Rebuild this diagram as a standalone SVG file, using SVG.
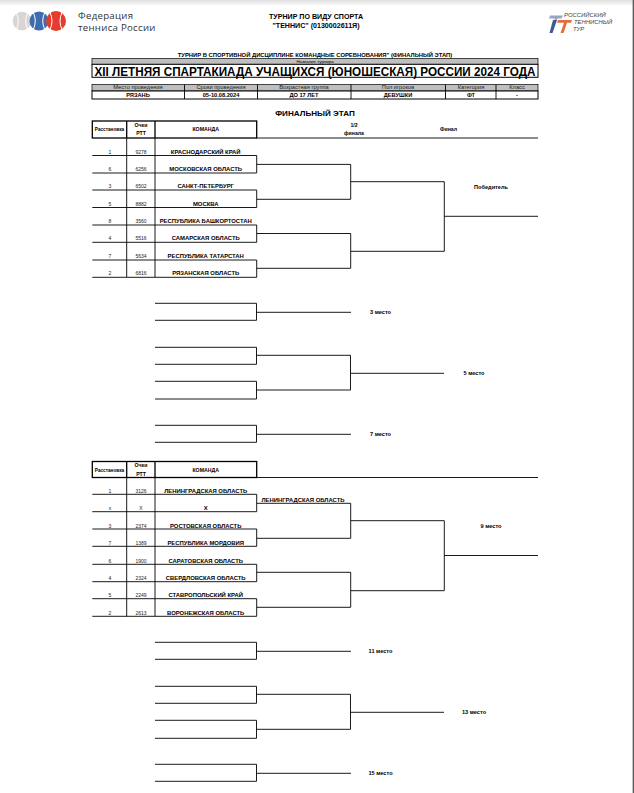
<svg xmlns="http://www.w3.org/2000/svg" width="634" height="793" viewBox="0 0 634 793">
<style>
text{font-family:"Liberation Sans",Arial,sans-serif;fill:#000;text-anchor:middle}
.b{font-weight:700}
.t{font-weight:700;font-size:5.9px}
.n{font-size:5px;fill:#222}
.h{font-size:5.2px;font-weight:700}
.g{font-size:5.7px;fill:#222}
.p{font-size:5.6px;font-weight:700}
.v{font-size:5.7px;font-weight:700}
.ln{fill:none;stroke:#000;stroke-width:.9}
.hv{fill:none;stroke:#000;stroke-width:1.3}
.lg{text-anchor:start;fill:#333;font-family:"Open Sans",sans-serif}
.rt{text-anchor:start;fill:#444;font-style:italic;font-size:5.9px}
</style>
<defs><linearGradient id="top" x1="0" y1="0" x2="0" y2="1"><stop offset="0" stop-color="#dedede"/><stop offset="1" stop-color="#fff"/></linearGradient></defs>
<rect width="634" height="793" fill="#fff"/>
<rect width="634" height="6" fill="url(#top)"/>
<path d="M633.300 0V793" stroke="#555" stroke-width="1.300"/>

<g id="logo-ftr">
<circle cx="22" cy="21" r="9.300" fill="#d9d5d0"/>
<circle cx="39" cy="21" r="9.500" fill="#3f6cae"/>
<circle cx="56" cy="21" r="10" fill="#e53c2e"/>
<path d="M16.500 13Q20 21 16.500 29M27.500 13Q24 21 27.500 29M33.500 13Q37 21 33.500 29M44.500 13Q41 21 44.500 29M50 12.500Q54 21 50 29.500M62 12.500Q58 21 62 29.500" fill="none" stroke="#fff" stroke-width="1"/>
<text class="lg" x="78" y="19" font-size="9.600" letter-spacing=".3">Федерация</text>
<text class="lg" x="78" y="30.500" font-size="9.600" letter-spacing=".3">тенниса России</text>
</g>
<g id="logo-rtt">
<path d="M550 15.500H563L561.500 18.500H557.500L555 24H552.500L555 18.500H549Z" fill="#9aa5c4"/>
<path d="M553 20H557L552.500 33H549.500Z" fill="#3d5a96"/>
<path d="M558 20H572L571 22.700H567L563.500 33H560.500L564 22.700H557Z" fill="#e0703a"/>
<text class="rt" x="564" y="17">РОССИЙСКИЙ</text>
<text class="rt" x="574" y="24">ТЕННИСНЫЙ</text>
<text class="rt" x="573" y="31">ТУР</text>
</g>
<g id="event-title">
<text class="b" x="316" y="18.500" font-size="7.100">ТУРНИР ПО ВИДУ СПОРТА</text>
<text class="b" x="316" y="27.500" font-size="7.100">"ТЕННИС" (0130002611Я)</text>
</g>
<g id="tournament-header">
<text class="b" x="315" y="56.700" font-size="5.850">ТУРНИР В СПОРТИВНОЙ ДИСЦИПЛИНЕ КОМАНДНЫЕ СОРЕВНОВАНИЯ" (ФИНАЛЬНЫЙ ЭТАП)</text>
<rect x="92" y="58.500" width="446" height="5.800" fill="#bfbfbf" stroke="#000" stroke-width=".7"/>
<rect x="92" y="64.300" width="446" height="13" fill="#fff" stroke="#000" stroke-width="1"/>
<text x="315" y="63.200" font-size="4.400" fill="#333">Название турнира</text>
<text class="b" x="315" y="75.500" font-size="13" textLength="441" lengthAdjust="spacingAndGlyphs">XII ЛЕТНЯЯ СПАРТАКИАДА УЧАЩИХСЯ (ЮНОШЕСКАЯ) РОССИИ 2024 ГОДА</text>
</g>
<g id="info-table">
<rect x="92" y="84.500" width="446" height="6.500" fill="#bfbfbf" stroke="#000" stroke-width=".7"/>
<rect x="92" y="91" width="446" height="8" fill="#fff" stroke="#000" stroke-width="1"/>
<path class="ln" d="M184.500 84.500V99M257.500 84.500V99M351 84.500V99M445.500 84.500V99M496 84.500V99"/>
<text class="g" x="138" y="89.300">Место проведения</text><text class="g" x="221" y="89.300">Сроки проведения</text><text class="g" x="304" y="89.300">Возрастная группа</text><text class="g" x="398" y="89.300">Пол игроков</text><text class="g" x="471" y="89.300">Категория</text><text class="g" x="517" y="89.300">Класс</text>
<text class="v" x="138" y="96.800">РЯЗАНЬ</text><text class="v" x="221" y="96.800">05-10.08.2024</text><text class="v" x="304" y="96.800">ДО 17 ЛЕТ</text><text class="v" x="398" y="96.800">ДЕВУШКИ</text><text class="v" x="471" y="96.800">ФТ</text><text class="v" x="517" y="96.800">-</text>
</g>
<text id="stage-title" class="b" x="315" y="115.500" font-size="8.100">ФИНАЛЬНЫЙ ЭТАП</text>
<g id="round-labels">
<text class="h" x="354" y="127.300">1/2</text><text class="h" x="354" y="134.800">финала</text><text class="h" x="448.500" y="131">Финал</text>
</g>

<g id="table-1-head">
<rect class="hv" x="92.300" y="121" width="164.400" height="17"/>
<path class="hv" d="M126.700 121V138M155 121V138"/>
<text x="109.500" y="131" font-size="4.700" class="b">Расстановка</text>
<text class="h" x="141" y="126.500">Очки</text><text class="h" x="141" y="135">РТТ</text>
<text class="h" x="205.700" y="131">КОМАНДА</text>
</g>
<g id="table-1-grid"><path class="ln" d="M126.700 138V277M155 138V277"/></g>
<g id="team-1"><path class="ln" d="M92.300 155.500H256.700"/><text class="n" x="110" y="153.500">1</text><text class="n" x="141" y="153.500">9278</text><text class="t" x="205.700" y="153.500">КРАСНОДАРСКИЙ КРАЙ</text></g>
<g id="team-2"><path class="ln" d="M92.300 173H256.700"/><text class="n" x="110" y="171">6</text><text class="n" x="141" y="171">6256</text><text class="t" x="205.700" y="171">МОСКОВСКАЯ ОБЛАСТЬ</text></g>
<g id="team-3"><path class="ln" d="M92.300 190H256.700"/><text class="n" x="110" y="188">3</text><text class="n" x="141" y="188">6502</text><text class="t" x="205.700" y="188">САНКТ-ПЕТЕРБУРГ</text></g>
<g id="team-4"><path class="ln" d="M92.300 207.500H256.700"/><text class="n" x="110" y="205.500">5</text><text class="n" x="141" y="205.500">8882</text><text class="t" x="205.700" y="205.500">МОСКВА</text></g>
<g id="team-5"><path class="ln" d="M92.300 225H256.700"/><text class="n" x="110" y="223">8</text><text class="n" x="141" y="223">3560</text><text class="t" x="205.700" y="223">РЕСПУБЛИКА БАШКОРТОСТАН</text></g>
<g id="team-6"><path class="ln" d="M92.300 242.300H256.700"/><text class="n" x="110" y="240.300">4</text><text class="n" x="141" y="240.300">5516</text><text class="t" x="205.700" y="240.300">САМАРСКАЯ ОБЛАСТЬ</text></g>
<g id="team-7"><path class="ln" d="M92.300 260H256.700"/><text class="n" x="110" y="258">7</text><text class="n" x="141" y="258">5634</text><text class="t" x="205.700" y="258">РЕСПУБЛИКА ТАТАРСТАН</text></g>
<g id="team-8"><path class="ln" d="M92.300 277.300H256.700"/><text class="n" x="110" y="275.300">2</text><text class="n" x="141" y="275.300">6816</text><text class="t" x="205.700" y="275.300">РЯЗАНСКАЯ ОБЛАСТЬ</text></g>

<g id="table-2-head">
<rect class="hv" x="92.300" y="461.500" width="164.400" height="16"/>
<path class="hv" d="M126.700 461.500V477.500M155 461.500V477.500"/>
<text x="109.500" y="471.500" font-size="4.700" class="b">Расстановка</text>
<text class="h" x="141" y="466.500">Очки</text><text class="h" x="141" y="475.500">РТТ</text>
<text class="h" x="205.700" y="471.500">КОМАНДА</text>
</g>
<g id="table-2-grid"><path class="ln" d="M126.700 477.500V616.300M155 477.500V616.300"/></g>
<g id="team-9"><path class="ln" d="M92.300 494.300H256.700"/><text class="n" x="110" y="492.800">1</text><text class="n" x="141" y="492.800">3126</text><text class="t" x="205.700" y="492.800">ЛЕНИНГРАДСКАЯ ОБЛАСТЬ</text></g>
<g id="team-10"><path class="ln" d="M92.300 511.700H256.700"/><text class="n" x="110" y="510">x</text><text class="n" x="141" y="510">X</text><text class="t" x="205.700" y="510">X</text></g>
<g id="team-11"><path class="ln" d="M92.300 529H256.700"/><text class="n" x="110" y="527.500">3</text><text class="n" x="141" y="527.500">2374</text><text class="t" x="205.700" y="527.500">РОСТОВСКАЯ ОБЛАСТЬ</text></g>
<g id="team-12"><path class="ln" d="M92.300 546.300H256.700"/><text class="n" x="110" y="544.800">7</text><text class="n" x="141" y="544.800">1389</text><text class="t" x="205.700" y="544.800">РЕСПУБЛИКА МОРДОВИЯ</text></g>
<g id="team-13"><path class="ln" d="M92.300 564.300H256.700"/><text class="n" x="110" y="562.500">6</text><text class="n" x="141" y="562.500">1900</text><text class="t" x="205.700" y="562.500">САРАТОВСКАЯ ОБЛАСТЬ</text></g>
<g id="team-14"><path class="ln" d="M92.300 581.700H256.700"/><text class="n" x="110" y="580">4</text><text class="n" x="141" y="580">2324</text><text class="t" x="205.700" y="580">СВЕРДЛОВСКАЯ ОБЛАСТЬ</text></g>
<g id="team-15"><path class="ln" d="M92.300 598.700H256.700"/><text class="n" x="110" y="597">5</text><text class="n" x="141" y="597">2249</text><text class="t" x="205.700" y="597">СТАВРОПОЛЬСКИЙ КРАЙ</text></g>
<g id="team-16"><path class="ln" d="M92.300 616.300H256.700"/><text class="n" x="110" y="614.500">2</text><text class="n" x="141" y="614.500">2613</text><text class="t" x="205.700" y="614.500">ВОРОНЕЖСКАЯ ОБЛАСТЬ</text></g>

<g id="connectors" class="ln">
<path d="M256.700 138H538"/>
<path d="M256.700 155.500V173M256.700 164.400H350.700M256.700 190V207.500M256.700 199.300H350.700M350.700 164.400V199.300M350.700 181.700H444.300"/>
<path d="M256.700 225V242.300M256.700 233.500H350.700M256.700 260V277.300M256.700 268.300H350.700M350.700 233.500V268.300M350.700 251.300H444.300M444.300 181.700V251.300M444.300 216.300H538"/>
<path d="M155 303.300H256.500V320.300H155M256.500 312.300H351"/>
<path d="M155 347.300H256.500V364.300H155M155 381.300H256.500V399H155M256.500 355.300H350.500V390H256.500M350.500 373.300H444"/>
<path d="M155 425.300H256.500V442.300H155M256.500 434.300H351"/>
<path d="M256.700 477.500H538"/>
<path d="M256.700 494.300V511.700M256.700 503.300H350.700M256.700 529V546.300M256.700 538.300H350.700M350.700 503.300V538.300M350.700 520.700H444.300"/>
<path d="M256.700 564.300V581.700M256.700 572.300H350.700M256.700 598.700V616.300M256.700 607.300H350.700M350.700 572.300V607.300M350.700 590.700H444.300M444.300 520.700V590.700M444.300 555.500H538"/>
<path d="M155 642.300H256.500V659.300H155M256.500 651.300H351"/>
<path d="M155 686.300H256.500V703.300H155M155 720.300H256.500V738.300H155M256.500 694.300H350.500V729.300H256.500M350.500 712.300H444"/>
<path d="M155 764.300H256.500V781.300H155M256.500 773.300H351"/>
</g>
<g id="labels">
<text class="t" x="303" y="501.800">ЛЕНИНГРАДСКАЯ ОБЛАСТЬ</text>
<text class="p" x="491" y="188.500">Победитель</text>
<text class="p" x="380.500" y="314">3 место</text>
<text class="p" x="474" y="375">5 место</text>
<text class="p" x="380.500" y="436">7 место</text>
<text class="p" x="491" y="527.500">9 место</text>
<text class="p" x="380.500" y="653">11 место</text>
<text class="p" x="474" y="714">13 место</text>
<text class="p" x="380.500" y="775">15 место</text>
</g>
</svg>
